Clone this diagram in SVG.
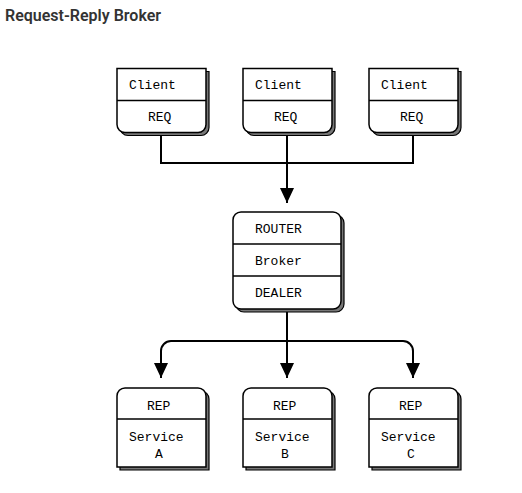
<svg xmlns="http://www.w3.org/2000/svg" xmlns:xlink="http://www.w3.org/1999/xlink" width="522" height="493" viewBox="0 0 522 493">
<style>
.title{font-family:Roboto,"Liberation Sans",sans-serif;font-weight:600;font-size:16px;fill:#333}
.t{font-family:"Liberation Mono","Courier New",monospace;font-size:13px;fill:#000}
.box{fill:#fff;stroke:#000;stroke-width:1.5}
.sh{fill:#777;stroke:#000;stroke-width:1.2}
.div{stroke:#000;stroke-width:1.5}
.conn{fill:none;stroke:#000;stroke-width:2}
</style>
<defs>
<marker id="arr" markerUnits="userSpaceOnUse" markerWidth="14" markerHeight="15" refX="15" refY="7" orient="auto">
<path d="M0,0 L15,7 L0,14 Z" fill="#000"/>
</marker>
<path id="clientShape" d="M0,0 H89 V56 A8,8 0 0 1 81,64 H8 A8,8 0 0 1 0,56 Z"/>
<path id="repShape" d="M0,79 V8 A8,8 0 0 1 8,0 H81 A8,8 0 0 1 89,8 V79 Z"/>
</defs>
<rect width="522" height="493" fill="#fff"/>
<text class="title" x="5" y="21">Request-Reply Broker</text>

<g id="connectors">
<path class="conn" d="M161,132 V163 H413 V132 M287,132 V163"/>
<path class="conn" d="M287,163 V203" marker-end="url(#arr)"/>
<path class="conn" d="M287,309 V378" marker-end="url(#arr)"/>
<path class="conn" d="M287,341 H171 A10,10 0 0 0 161,351 V378" marker-end="url(#arr)"/>
<path class="conn" d="M287,341 H403 A10,10 0 0 1 413,351 V378" marker-end="url(#arr)"/>
</g>

<g id="client1" transform="translate(117,68.5)">
<use xlink:href="#clientShape" class="sh" x="3" y="3"/>
<use xlink:href="#clientShape" class="box"/>
<line class="div" x1="0" y1="32" x2="89" y2="32"/>
<text class="t" x="12" y="20.5">Client</text>
<text class="t" x="31" y="52.5">REQ</text>
</g>
<g id="client2" transform="translate(243,68.5)">
<use xlink:href="#clientShape" class="sh" x="3" y="3"/>
<use xlink:href="#clientShape" class="box"/>
<line class="div" x1="0" y1="32" x2="89" y2="32"/>
<text class="t" x="12" y="20.5">Client</text>
<text class="t" x="31" y="52.5">REQ</text>
</g>
<g id="client3" transform="translate(369,68.5)">
<use xlink:href="#clientShape" class="sh" x="3" y="3"/>
<use xlink:href="#clientShape" class="box"/>
<line class="div" x1="0" y1="32" x2="89" y2="32"/>
<text class="t" x="12" y="20.5">Client</text>
<text class="t" x="31" y="52.5">REQ</text>
</g>

<g id="broker" transform="translate(233,212)">
<rect class="sh" x="3" y="3" width="108" height="97" rx="8"/>
<rect class="box" x="0" y="0" width="108" height="97" rx="8"/>
<line class="div" x1="0" y1="32" x2="108" y2="32"/>
<line class="div" x1="0" y1="64" x2="108" y2="64"/>
<text class="t" x="22" y="21">ROUTER</text>
<text class="t" x="22" y="53">Broker</text>
<text class="t" x="22" y="85">DEALER</text>
</g>

<g id="serviceA" transform="translate(117,388)">
<use xlink:href="#repShape" class="sh" x="3" y="3"/>
<use xlink:href="#repShape" class="box"/>
<line class="div" x1="0" y1="31" x2="89" y2="31"/>
<text class="t" x="30" y="22">REP</text>
<text class="t" x="12" y="53">Service</text>
<text class="t" x="38" y="70">A</text>
</g>
<g id="serviceB" transform="translate(243,388)">
<use xlink:href="#repShape" class="sh" x="3" y="3"/>
<use xlink:href="#repShape" class="box"/>
<line class="div" x1="0" y1="31" x2="89" y2="31"/>
<text class="t" x="30" y="22">REP</text>
<text class="t" x="12" y="53">Service</text>
<text class="t" x="38" y="70">B</text>
</g>
<g id="serviceC" transform="translate(369,388)">
<use xlink:href="#repShape" class="sh" x="3" y="3"/>
<use xlink:href="#repShape" class="box"/>
<line class="div" x1="0" y1="31" x2="89" y2="31"/>
<text class="t" x="30" y="22">REP</text>
<text class="t" x="12" y="53">Service</text>
<text class="t" x="38" y="70">C</text>
</g>
</svg>
